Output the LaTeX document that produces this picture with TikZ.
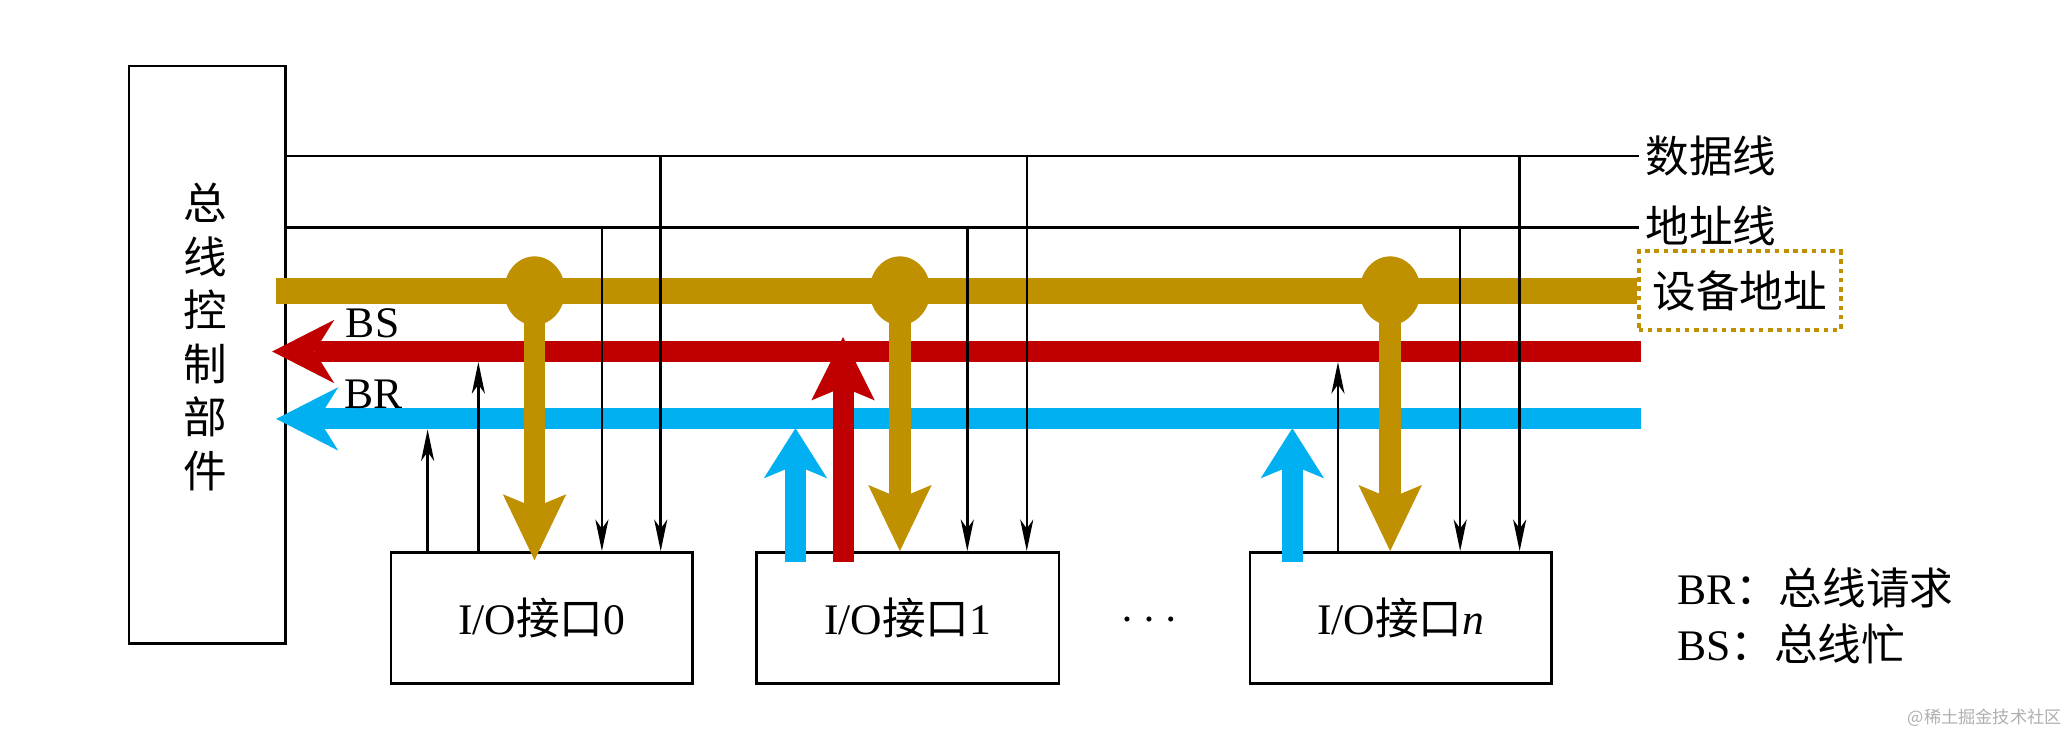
\documentclass[tikz,border=0pt]{standalone}
\usepackage{fontspec}
\setmainfont{Liberation Serif}
\newfontfamily\cjk{Noto Sans CJK SC}
\usetikzlibrary{arrows.meta,shapes.geometric,calc}
\definecolor{busgold}{RGB}{191,144,0}
\definecolor{busred}{RGB}{192,0,0}
\definecolor{busblue}{RGB}{0,176,240}
\definecolor{wmgray}{RGB}{175,175,175}
\tikzset{
  unitbox/.style={draw, line width=2pt, inner sep=0pt, font=\fontsize{33}{40}\selectfont},
  lbl/.style={font=\fontsize{33}{40}\selectfont, inner sep=0pt},
  sig/.style={line width=1.9pt, black},
  sigtip/.tip={Stealth[length=24pt,width=10pt,inset=7pt,line width=0pt]},
  sidetip/.tip={Stealth[length=47pt,width=48pt,inset=15pt,line width=0pt]},
  redtip/.tip={Stealth[length=48pt,width=48pt,inset=10pt,line width=0pt]},
  bluetip/.tip={Stealth[length=38pt,width=48pt,inset=10pt,line width=0pt]},
  goldtip/.tip={Stealth[length=50pt,width=48pt,inset=10pt,line width=0pt]},
  goldbus/.style={line width=19.7pt, busgold},
  goldstem/.style={line width=16.5pt, busgold},
  redbus/.style={line width=16pt, busred},
  bluebus/.style={line width=16pt, busblue},
  joint/.style={ellipse, fill=busgold, draw=none, minimum width=46pt, minimum height=52pt, inner sep=0pt},
}
\begin{document}
\begin{tikzpicture}[x=1pt,y=-1pt]
\useasboundingbox (0,0) rectangle (1568,555);
% control unit
\node[unitbox, minimum width=118.3pt, minimum height=437pt] (ctrl) at (156.85,268.5) {};
\node[lbl, font={\fontsize{33}{40.5}\selectfont\cjk}, align=center] (ctrltxt) at (155,255) {总\\线\\控\\制\\部\\件};
% I/O interfaces
\node[unitbox, minimum width=228pt, minimum height=99pt] (io0) at (410,467.5) {I/O{\cjk 接口}0};
\node[unitbox, minimum width=229pt, minimum height=99pt] (io1) at (687,467.5) {I/O{\cjk 接口}1};
\node[unitbox, minimum width=228pt, minimum height=99pt] (ion) at (1060,467.5) {I/O{\cjk 接口}\textit{n}};
\node[lbl, font=\fontsize{16}{18}\selectfont] (dots) at (869.5,470.5) {•\kern11pt•\kern11pt•};
% right labels
\node[lbl, anchor=west, inner sep=4pt, font={\fontsize{33}{40}\selectfont\cjk}] (dlab) at (1241,118) {数据线};
\node[lbl, anchor=west, inner sep=4pt, font={\fontsize{33}{40}\selectfont\cjk}] (alab) at (1241,171) {地址线};
\node[lbl, font={\fontsize{33}{40}\selectfont\cjk}, draw=busgold, line width=3pt, dash pattern=on 3.5pt off 3.5pt, minimum width=153pt, minimum height=59.5pt] (devaddr) at (1316.5,220) {设备地址};
% legend
\node[lbl, anchor=west] (legbr) at (1269,445) {BR{\cjk ：总线请求}};
\node[lbl, anchor=west] (legbs) at (1269,487) {BS{\cjk ：总线忙}};
\node[font={\fontsize{13}{15}\selectfont\cjk}, text=wmgray, inner sep=0pt] (wm) at (1502,543) {@稀土掘金技术社区};
% coordinates
\coordinate (dEnd) at (1240,118);
\coordinate (aEnd) at (1240,172);
\coordinate (busL) at (209,220);
\coordinate (bsR) at (1242,266);
\coordinate (bsL) at (206,266);
\coordinate (brR) at (1242,317);
\coordinate (brL) at (209,317);
% BR / BS lines
\draw[bluebus, -{sidetip}] (brR) -- (brL);
\draw[redbus, -{sidetip}] (bsR) -- (bsL);
\node[lbl] (bs) at (282,245) {BS};
\node[lbl] (br) at (283,298) {BR};
% request / busy arrows from interfaces
\coordinate (b1s) at (602,425);
\coordinate (b1t) at (602,324);
\coordinate (bns) at (978,425);
\coordinate (bnt) at (978,324);
\coordinate (r1s) at (638,425);
\coordinate (r1t) at (638,255);
\draw[bluebus, line width=15.5pt, -{bluetip}] (b1s) -- (b1t);
\draw[bluebus, line width=15.5pt, -{bluetip}] (bns) -- (bnt);
\draw[redbus, -{redtip}] (r1s) -- (r1t);
% device address bus
\draw[goldbus] (busL) -- (devaddr.west);
\node[joint] (j0) at (404.5,220) {};
\node[joint] (j1) at (681,220) {};
\node[joint] (jn) at (1052,220) {};
\draw[goldstem, -{goldtip}] (j0.center) -- ($(j0 |- io0.north)+(0,7)$);
\draw[goldstem, -{goldtip}] (j1.center) -- (j1 |- io1.north);
\draw[goldstem, -{goldtip}] (jn.center) -- (jn |- ion.north);
% data and address lines
\draw[sig] (ctrl.east |- dEnd) -- (dEnd);
\draw[sig] (ctrl.east |- aEnd) -- (aEnd);
\coordinate (d0) at (500,118);
\coordinate (d1) at (777,118);
\coordinate (dn) at (1150,118);
\coordinate (a0) at (455.5,172);
\coordinate (a1) at (732,172);
\coordinate (an) at (1105,172);
\draw[sig, -{sigtip}] (d0) -- (d0 |- io0.north);
\draw[sig, -{sigtip}] (d1) -- (d1 |- io1.north);
\draw[sig, -{sigtip}] (dn) -- (dn |- ion.north);
\draw[sig, -{sigtip}] (a0) -- (a0 |- io0.north);
\draw[sig, -{sigtip}] (a1) -- (a1 |- io1.north);
\draw[sig, -{sigtip}] (an) -- (an |- ion.north);
% small request / busy arrows
\coordinate (q0) at (323.6,325);
\coordinate (s0) at (362,274);
\coordinate (sn) at (1012.5,274);
\draw[sig, -{sigtip}] (q0 |- io0.north) -- (q0);
\draw[sig, -{sigtip}] (s0 |- io0.north) -- (s0);
\draw[sig, -{sigtip}] (sn |- ion.north) -- (sn);
\end{tikzpicture}
\end{document}
